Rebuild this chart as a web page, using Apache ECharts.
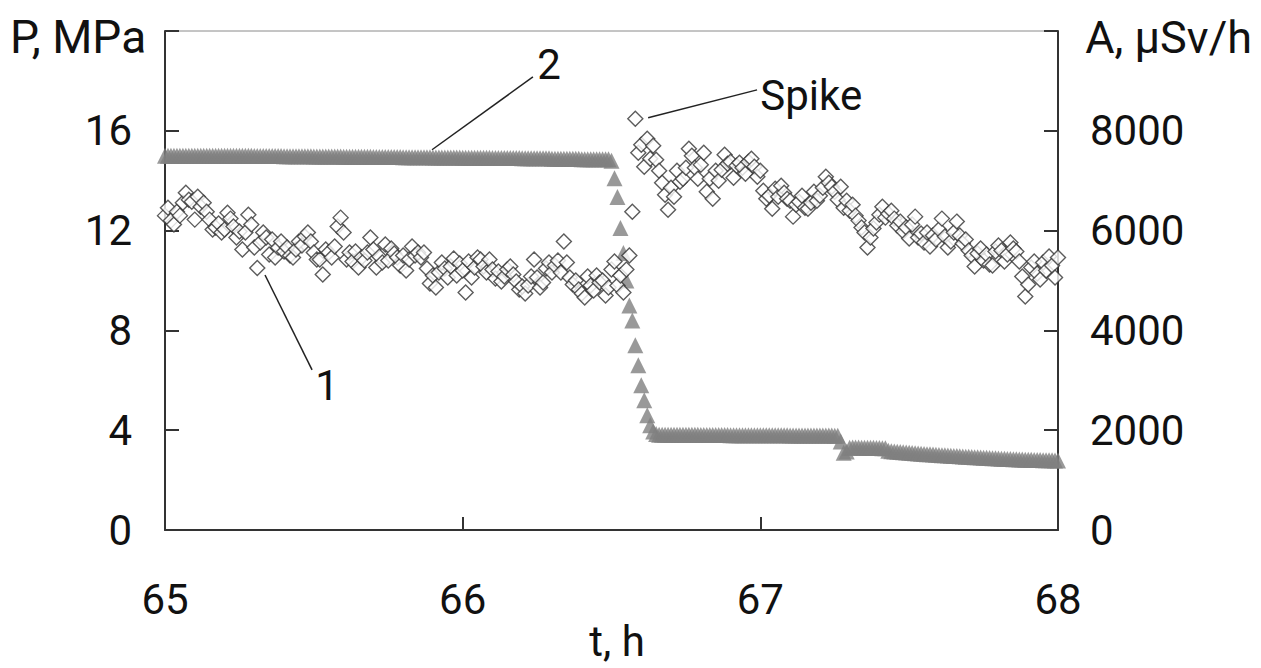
<!DOCTYPE html>
<html><head><meta charset="utf-8">
<script src="https://cdn.jsdelivr.net/npm/echarts@6/dist/echarts.min.js"></script>
<style>html,body{margin:0;padding:0;background:#fff}#c{width:1261px;height:668px}</style>
</head><body><div id="c"></div>
<script>
// ---- data ----
const tStart = 65.0;   // h
const tStep = 0.01;    // h, sampling interval
const xTicks = [65, 66, 67, 68];
const pTicks = [0, 4, 8, 12, 16];
const aTicks = [0, 2000, 4000, 6000, 8000];
// curve 2 : pressure, MPa (left axis)
const pressure = [
15.0,15.0,15.0,15.0,15.0,15.0,15.0,15.0,15.0,15.0,
15.0,15.0,15.0,15.0,15.0,15.0,15.0,15.0,15.0,15.0,
15.0,15.0,15.0,15.0,15.0,15.0,15.0,15.0,15.0,15.0,
14.99,14.99,14.99,14.99,14.99,14.99,14.99,14.99,14.99,14.99,
14.98,14.98,14.98,14.98,14.98,14.98,14.98,14.98,14.98,14.98,
14.97,14.97,14.97,14.97,14.97,14.97,14.97,14.97,14.97,14.97,
14.96,14.96,14.96,14.96,14.96,14.96,14.96,14.96,14.96,14.96,
14.95,14.95,14.95,14.95,14.95,14.95,14.95,14.95,14.95,14.95,
14.94,14.94,14.94,14.94,14.94,14.94,14.94,14.94,14.94,14.94,
14.93,14.93,14.93,14.93,14.93,14.93,14.93,14.93,14.93,14.93,
14.92,14.92,14.92,14.92,14.92,14.92,14.92,14.92,14.92,14.92,
14.91,14.91,14.91,14.91,14.91,14.91,14.91,14.91,14.91,14.91,
14.9,14.9,14.9,14.9,14.9,14.9,14.9,14.9,14.9,14.9,
14.88,14.88,14.88,14.88,14.88,14.88,14.88,14.88,14.88,14.88,
14.86,14.86,14.86,14.86,14.86,14.86,14.86,14.86,14.86,14.86,
14.8,
14.1,13.35,12.1,11.1,10.0,9.0,8.4,7.4,6.6,
5.8,5.2,4.6,4.2,3.95,3.85,3.82,3.82,3.82,3.82,
3.82,3.82,3.82,3.82,3.82,3.82,3.82,3.82,3.82,3.82,
3.81,3.81,3.81,3.81,3.81,3.81,3.81,3.81,3.81,3.81,
3.8,3.8,3.8,3.8,3.8,3.8,3.8,3.8,3.8,3.8,
3.8,3.8,3.8,3.8,3.8,3.8,3.8,3.8,3.8,3.8,
3.79,3.79,3.79,3.79,3.79,3.79,3.79,3.79,3.79,3.79,
3.79,3.79,3.79,3.79,3.79,3.78,3.78,3.55,3.1,3.15,
3.3,3.31,3.31,3.31,3.3,3.3,3.3,3.3,3.3,3.29,
3.29,3.28,3.28,3.18,3.16,3.15,3.14,3.13,3.12,3.11,
3.1,3.09,3.08,3.07,3.06,3.05,3.04,3.04,3.03,3.02,
3.01,3.0,3.0,2.99,2.98,2.97,2.97,2.96,2.95,2.94,
2.94,2.93,2.92,2.92,2.91,2.9,2.9,2.89,2.88,2.88,
2.87,2.86,2.86,2.85,2.85,2.84,2.84,2.83,2.83,2.82,
2.82,2.82,2.81,2.81,2.81,2.8,2.8,2.8,2.8,2.79,
2.79
];
// curve 1 : dose rate, µSv/h (right axis)
const activity = [
6300,6460,6200,6120,6380,6300,6560,6760,6620,6580,
6220,6680,6480,6560,6380,6220,6020,6060,6140,5960,
6020,6360,6240,6080,5860,5980,5620,5960,6320,6120,
5660,5250,5760,5960,5860,5520,5820,5460,5660,5780,
5580,5660,5500,5460,5620,5780,5700,5880,5960,5780,
5560,5420,5420,5120,5620,5560,5460,5680,6080,6260,
5960,5420,5560,5380,5580,5260,5460,5400,5560,5860,
5620,5260,5480,5360,5720,5400,5640,5540,5460,5300,
5500,5200,5420,5680,5500,5560,5460,5560,5240,4940,
5100,4860,5160,5360,5240,5060,5280,5440,5100,5340,
5200,4760,5380,5060,5260,5460,5420,5280,5160,5420,
5220,5040,5180,4980,5080,5220,5280,5120,4980,4820,
4880,4740,4900,5080,5420,5060,4860,4960,5240,5360,
5160,5300,5400,5160,5780,5360,5060,4920,5000,4820,
4740,4660,5080,4900,4800,5100,4960,5000,4700,4860,
5220,5380,4900,5100,4760,5220,5500,6380,8240,7560,
7720,7280,7840,7440,7700,7420,7200,6960,6720,6420,
6860,6680,7200,6980,7040,7260,7640,7500,7260,7040,
7320,7560,6780,7040,6640,7200,7000,7220,7520,7340,
7380,7060,7300,7360,7260,7140,7380,7440,7280,7080,
7200,6800,6640,6700,6440,6840,6680,6900,6760,6640,
6600,6280,6520,6580,6700,6460,6440,6560,6780,6600,
6700,6860,7080,6960,6880,6780,6620,6880,6460,6600,
6400,6520,6300,6200,6060,5960,5660,5860,6040,6160,
6320,6480,6260,6340,6400,6240,6100,6180,5980,6060,
5840,6120,6280,5860,5940,5760,5960,5680,5900,5820,
6020,6240,5880,5660,5780,5960,6180,5900,5740,5820,
5600,5500,5280,5540,5640,5400,5520,5320,5300,5580,
5700,5600,5380,5520,5760,5640,5580,5380,5080,4680,
4920,5260,5380,5140,5020,5360,5200,5480,5300,5060,
5460
];

// ---- chart ----
const FONT = 'Roboto';
const INK = '#111';
const AXIS = '#333';
const chart = echarts.init(document.getElementById('c'), null, {renderer: 'svg'});
const toPairs = arr => arr.map((v, i) => [Math.round((tStart + i * tStep) * 1000) / 1000, v]);
const showTick = list => v => list.indexOf(v) >= 0 ? String(v) : '';

chart.setOption({
  animation: false,
  backgroundColor: '#fff',
  grid: {left: 165, right: 203, top: 31, bottom: 138, show: true, borderColor: '#8a8a8a', borderWidth: 1},
  xAxis: {
    type: 'value', min: 65, max: 68, interval: 1,
    axisLine: {show: true, lineStyle: {color: AXIS, width: 2}},
    axisTick: {show: true, inside: true, length: 13, lineStyle: {color: AXIS, width: 2}},
    axisLabel: {fontFamily: FONT, fontSize: 42, color: INK, margin: 48, formatter: showTick(xTicks)},
    splitLine: {show: false}
  },
  yAxis: [{
    type: 'value', min: 0, max: 20, interval: 4, position: 'left',
    axisLine: {show: true, lineStyle: {color: AXIS, width: 2}},
    axisTick: {show: true, inside: true, length: 14, lineStyle: {color: AXIS, width: 2}},
    axisLabel: {fontFamily: FONT, fontSize: 42, color: INK, margin: 33, formatter: showTick(pTicks)},
    splitLine: {show: false}
  }, {
    type: 'value', min: 0, max: 10000, interval: 2000, position: 'right',
    axisLine: {show: true, lineStyle: {color: AXIS, width: 2}},
    axisTick: {show: true, inside: true, length: 14, lineStyle: {color: AXIS, width: 2}},
    axisLabel: {fontFamily: FONT, fontSize: 42, color: INK, margin: 32, formatter: showTick(aTicks)},
    splitLine: {show: false}
  }],
  series: [{
    name: 'P', type: 'scatter', yAxisIndex: 0, symbol: 'triangle', symbolSize: [16, 16],
    itemStyle: {color: '#7f7f7f'}, data: toPairs(pressure), z: 2
  }, {
    name: 'A', type: 'scatter', yAxisIndex: 1, symbol: 'diamond', symbolSize: 15,
    itemStyle: {color: '#ffffff', borderColor: '#333333', borderWidth: 1.4}, data: toPairs(activity), z: 3
  }]
});

// annotations anchored in data coordinates (t, P)
const notes = [
  {label: '2', from: [65.897, 15.24], to: [66.236, 18.16], at: [66.29, 18.64], align: 'center'},
  {label: '1', from: [65.336, 10.22], to: [65.494, 6.42], at: [65.544, 5.81], align: 'center'},
  {label: 'Spike', from: [66.623, 16.52], to: [66.989, 17.64], at: [67.0, 17.4], align: 'left'}
];
const px = p => chart.convertToPixel({xAxisIndex: 0, yAxisIndex: 0}, p);
const graphics = [];
notes.forEach(n => {
  const a = px(n.from), b = px(n.to), c = px(n.at);
  graphics.push({type: 'line', shape: {x1: a[0], y1: a[1], x2: b[0], y2: b[1]}, style: {stroke: '#222', lineWidth: 1.5}, z: 10});
  graphics.push({type: 'text', x: c[0], y: c[1], style: {text: n.label, font: '42px ' + FONT, fill: INK, align: n.align, verticalAlign: 'middle'}, z: 10});
});
graphics.push({type: 'text', x: 10, y: 37, style: {text: 'P, MPa', font: '46px ' + FONT, fill: INK, align: 'left', verticalAlign: 'middle'}});
graphics.push({type: 'text', x: 1252, y: 37, style: {text: 'A, µSv/h', font: '45px ' + FONT, fill: INK, align: 'right', verticalAlign: 'middle'}});
graphics.push({type: 'text', x: 617, y: 641, style: {text: 't, h', font: '42px ' + FONT, fill: INK, align: 'center', verticalAlign: 'middle'}});
chart.setOption({graphic: graphics});
</script>
</body></html>
